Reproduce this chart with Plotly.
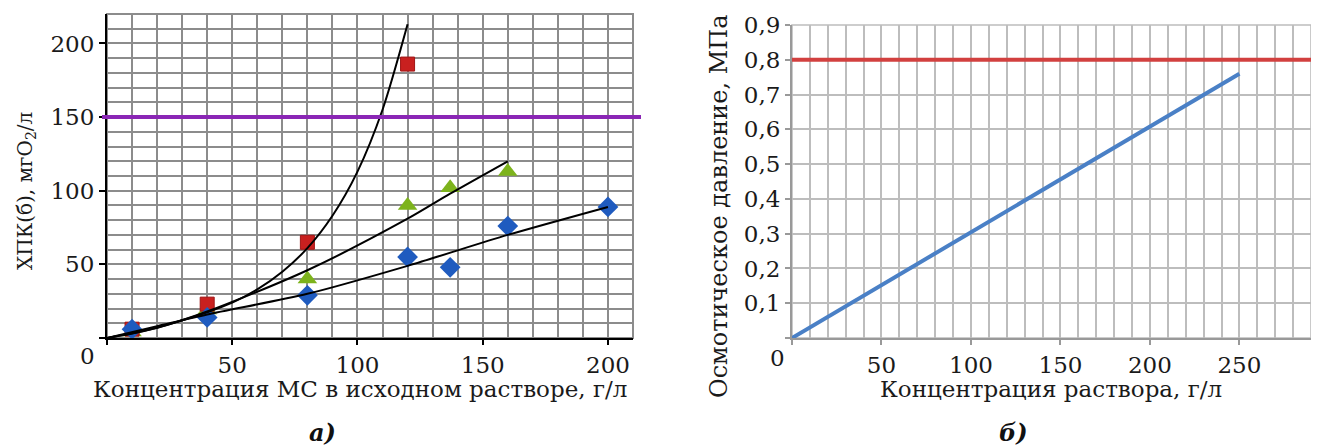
import plotly.graph_objects as go

W, H = 1319, 445
OFF = 8  # page body margin

# ---------------- data: chart a) ----------------
x_red = [10, 40, 80, 120]
y_red = [6, 23, 65, 186]
x_green = [10, 40, 80, 120, 137, 160]
y_green = [4, 19, 40, 90, 102, 113]
x_blue = [10, 40, 80, 120, 137, 160, 200]
y_blue = [6, 14, 29, 55, 48, 76, 89]

# trend curves
trend_red_x = [0, 10, 20, 30, 40, 50, 60, 70, 80, 90, 100, 110, 120]
trend_red_y = [0, 3, 7, 12, 17.5, 24, 33, 45, 61, 83, 113, 155, 213]
trend_green_x = [0, 20, 40, 80, 120, 137, 160]
trend_green_y = [0, 7, 18, 46, 81, 98, 120]
trend_blue_x = [0, 20, 40, 80, 120, 160, 200]
trend_blue_y = [0, 8, 16, 30, 49, 70, 89]
limit_a = 150

# ---------------- data: chart б) ----------------
osm_x = [0, 250]
osm_y = [0, 0.76]
limit_b = 0.8

ticks_a_x = [0, 50, 100, 150, 200]
ticks_a_y = [0, 50, 100, 150, 200]
ticks_b_x = [0, 50, 100, 150, 200, 250]
ticks_b_y = [0, 0.1, 0.2, 0.3, 0.4, 0.5, 0.6, 0.7, 0.8, 0.9]


def px(v):
    return (v - OFF) / W


def py(v):
    return 1 - (v - OFF) / H


FONT = "DejaVu Serif"
TXT = "#1a1a1a"
TICK = 23

fig = go.Figure()

# markers a)
fig.add_trace(go.Scatter(x=x_green, y=y_green, mode="markers", xaxis="x", yaxis="y",
                         marker=dict(symbol="triangle-up", size=17, color="#7DB31C",
                                     line=dict(width=0))))
fig.add_trace(go.Scatter(x=x_red, y=y_red, mode="markers", xaxis="x", yaxis="y",
                         marker=dict(symbol="square", size=14, color="#C9201F",
                                     line=dict(width=1, color="#A01515"))))
fig.add_trace(go.Scatter(x=x_blue, y=y_blue, mode="markers", xaxis="x", yaxis="y",
                         marker=dict(symbol="diamond", size=16, color="#1F5BBF",
                                     line=dict(width=0))))
# trend lines a)
for tx, ty in [(trend_red_x, trend_red_y), (trend_green_x, trend_green_y),
               (trend_blue_x, trend_blue_y)]:
    fig.add_trace(go.Scatter(x=tx, y=ty, mode="lines", xaxis="x", yaxis="y",
                             line=dict(color="black", width=2, shape="spline", smoothing=0.8)))

# chart б)
fig.add_trace(go.Scatter(x=osm_x, y=osm_y, mode="lines", xaxis="x2", yaxis="y2",
                         line=dict(color="#4A80C6", width=4)))

grid_a = "#8c8c8c"
grid_b = "#bdbdbd"

common = dict(automargin=False, zeroline=False, showgrid=True,
              tickfont=dict(size=TICK, family=FONT, color=TXT))

fig.update_layout(
    width=W, height=H, margin=dict(l=0, r=0, t=0, b=0, autoexpand=False),
    paper_bgcolor="white", plot_bgcolor="white", showlegend=False,
    font=dict(family=FONT, color=TXT, size=21),
    xaxis=dict(domain=[px(107), px(633)], range=[0, 210], anchor="y",
               tickvals=ticks_a_x, ticktext=[""] + [str(v) for v in ticks_a_x[1:]],
               ticks="outside", ticklen=5, tickwidth=1.5, tickcolor="black",
               showline=True, linecolor="black", linewidth=2,
               gridcolor=grid_a, gridwidth=2,
               minor=dict(tick0=0, dtick=10, showgrid=True, gridcolor=grid_a, gridwidth=2),
               **common),
    yaxis=dict(domain=[py(338), py(14)], range=[0, 220], anchor="x",
               tickvals=ticks_a_y, ticktext=[""] + [str(v) for v in ticks_a_y[1:]],
               ticks="outside", ticklen=6, tickwidth=1.5, tickcolor="black",
               showline=True, linecolor="black", linewidth=2,
               gridcolor=grid_a, gridwidth=2,
               minor=dict(tick0=0, dtick=10, showgrid=True, gridcolor=grid_a, gridwidth=2),
               **common),
    xaxis2=dict(domain=[px(792), px(1311)], range=[0, 290], anchor="y2",
                tickvals=ticks_b_x, ticktext=[""] + [str(v) for v in ticks_b_x[1:]],
                ticks="outside", ticklen=5, tickwidth=1.5, tickcolor="#999999",
                showline=True, linecolor="#999999", linewidth=2,
                gridcolor=grid_b, gridwidth=1.6,
                minor=dict(tick0=0, dtick=10, showgrid=True, gridcolor=grid_b, gridwidth=1.6),
                **common),
    yaxis2=dict(domain=[py(338), py(25)], range=[0, 0.9], anchor="x2",
                tickvals=ticks_b_y,
                ticktext=[""] + [f"{v:.1f}".replace(".", ",") for v in ticks_b_y[1:]],
                ticks="outside", ticklen=5, tickwidth=1.5, tickcolor="#999999",
                showline=True, linecolor="#999999", linewidth=2,
                gridcolor=grid_b, gridwidth=1.6,
                **common),
)

shapes = [
    dict(type="rect", xref="x domain", yref="y domain", x0=0, x1=1, y0=0, y1=1,
         line=dict(color=grid_a, width=2), layer="below"),
    dict(type="rect", xref="x2 domain", yref="y2 domain", x0=0, x1=1, y0=0, y1=1,
         line=dict(color=grid_b, width=1.6), layer="below"),
    dict(type="line", xref="paper", yref="y", x0=px(102), x1=px(641),
         y0=limit_a, y1=limit_a, line=dict(color="#8A26B5", width=4)),
    dict(type="line", xref="paper", yref="y2", x0=px(792), x1=1.0,
         y0=limit_b, y1=limit_b, line=dict(color="#D2403F", width=4)),
]
fig.update_layout(shapes=shapes)


def label(text, x, y, size, angle=0, color=TXT):
    return dict(text=text, x=px(x), y=py(y), xref="paper", yref="paper",
                xanchor="center", yanchor="middle", showarrow=False, textangle=angle,
                font=dict(size=size, family=FONT, color=color))


ann = [
    label("0", 87, 356, TICK),
    label("0", 777, 358, TICK),
    label("Концентрация МС в исходном растворе, г/л", 360, 389, 23),
    label("ХПК(б), мгО<sub>2</sub>/л", 26, 191, 20, angle=-90),
    label("Концентрация раствора, г/л", 1051, 389, 23),
    label("Осмотическое давление, МПа", 719, 206, 24, angle=-90),
    label("<b><i>а)</i></b>", 322, 432, 24, color="#111111"),
    label("<b><i>б)</i></b>", 1013, 432, 24, color="#111111"),
]
fig.update_layout(annotations=ann)

fig.write_html("out.html")
